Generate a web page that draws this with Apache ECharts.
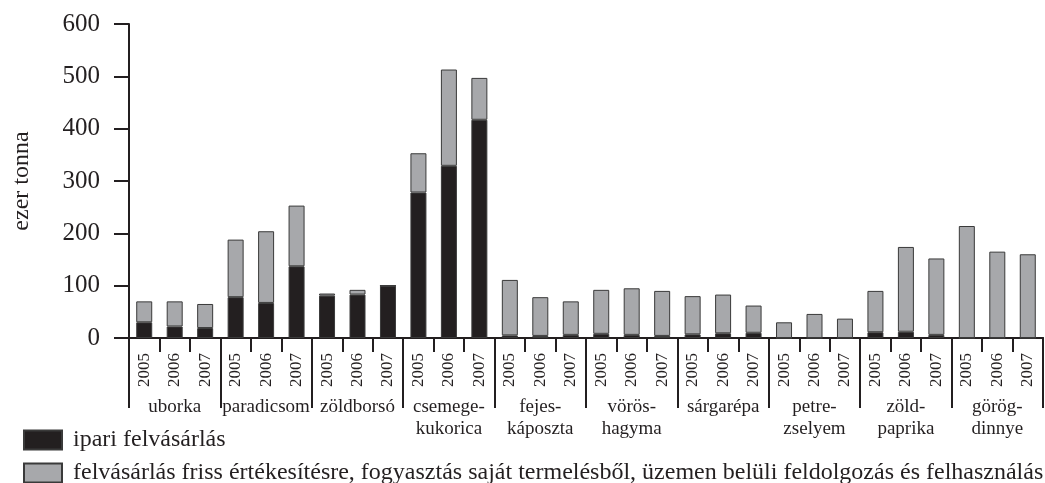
<!DOCTYPE html>
<html>
<head>
<meta charset="utf-8">
<script src="https://cdn.jsdelivr.net/npm/echarts@6/dist/echarts.min.js"></script>
<style>
  html, body { margin: 0; padding: 0; background: #fff; }
  #main { width: 1045px; height: 483px; }
</style>
</head>
<body>
<div id="main"></div>
<script>
// adatok (ezer tonna)
var groups = ['uborka', 'paradicsom', 'zöldborsó', 'csemege-\nkukorica', 'fejes-\nkáposzta',
              'vörös-\nhagyma', 'sárgarépa', 'petre-\nzselyem', 'zöld-\npaprika', 'görög-\ndinnye'];
var years = ['2005', '2006', '2007'];
var yTicks = [0, 100, 200, 300, 400, 500, 600];

// ipari felvásárlás
var ipari = [30, 22, 19,   78, 67, 137,   81, 83, 100,   278, 329, 417,   5, 4, 6,
             8, 6, 4,      7, 9, 10,      0, 0, 0,       11, 12, 6,       0, 0, 0];
// egyéb (friss értékesítés, saját fogyasztás, feldolgozás)
var egyeb = [40, 48, 46,   110, 137, 116,  4, 9, 0,      75, 184, 80,     106, 74, 64,
             84, 89, 86,   73, 74, 52,     30, 46, 37,    79, 162, 146,   214, 165, 160];

var names = ['ipari felvásárlás',
  'felvásárlás friss értékesítésre, fogyasztás saját termelésből, üzemen belüli feldolgozás és felhasználás'];

var cats = [];
groups.forEach(function () { years.forEach(function (y) { cats.push(y); }); });

var font = 'Liberation Serif';
var ink = '#231f20';

function legendAt(name, top) {
    return {
        left: 23,
        top: top,
        padding: 0,
        itemWidth: 38,
        itemHeight: 19,
        icon: 'rect',
        textStyle: { fontFamily: font, fontSize: 24, lineHeight: 19, color: ink, padding: [0, 0, 0, 6] },
        data: [name]
    };
}

var myChart = echarts.init(document.getElementById('main'));
var option = {
    animation: false,
    textStyle: { fontFamily: font, color: ink },
    grid: { left: 129, right: 2, top: 24, bottom: 145 },
    legend: [legendAt(names[0], 428), legendAt(names[1], 461)],
    xAxis: [
        {
            type: 'category',
            data: cats,
            axisLine: { lineStyle: { color: ink, width: 2 } },
            axisTick: { show: true, interval: 0, length: 14, lineStyle: { color: ink, width: 2 } },
            axisLabel: { interval: 0, rotate: 90, margin: 15, fontSize: 17, color: ink, fontFamily: font }
        },
        {
            type: 'category',
            data: groups,
            position: 'bottom',
            axisLine: { show: true, lineStyle: { color: ink, width: 2 } },
            axisTick: { show: true, interval: 0, length: 70, lineStyle: { color: ink, width: 2 } },
            axisLabel: { interval: 0, margin: 58, fontSize: 19, lineHeight: 22, color: ink, fontFamily: font }
        }
    ],
    yAxis: {
        type: 'value',
        min: yTicks[0],
        max: yTicks[yTicks.length - 1],
        interval: 100,
        name: 'ezer tonna',
        nameLocation: 'middle',
        nameGap: 95,
        nameTextStyle: { fontSize: 24, color: ink, fontFamily: font },
        axisLine: { show: true, lineStyle: { color: ink, width: 2 } },
        axisTick: { show: true, length: 15, lineStyle: { color: ink, width: 2 } },
        axisLabel: { margin: 29, fontSize: 25, color: ink, fontFamily: font },
        splitLine: { show: false }
    },
    series: [
        {
            name: names[0],
            type: 'bar',
            stack: 'total',
            barWidth: 16,
            data: ipari,
            itemStyle: { color: ink, borderColor: '#3a3a3a', borderWidth: 1 }
        },
        {
            name: names[1],
            type: 'bar',
            stack: 'total',
            barWidth: 16,
            data: egyeb,
            itemStyle: { color: '#a7a8ab', borderColor: '#3a3a3a', borderWidth: 1 }
        }
    ]
};
myChart.setOption(option);
</script>
</body>
</html>
